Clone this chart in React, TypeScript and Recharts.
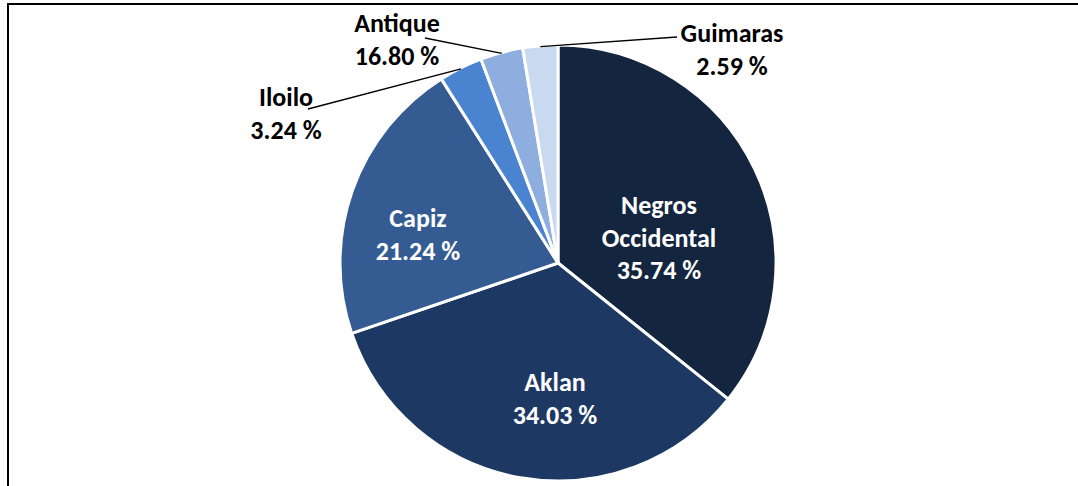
import React from 'react'
import { Cell, Pie, PieChart } from 'recharts'

const provinces = ['Negros Occidental', 'Aklan', 'Capiz', 'Iloilo', 'Antique', 'Guimaras']
// slice sizes as drawn
const shares = [35.74, 34.03, 21.24, 3.24, 3.16, 2.59]
// percentages as printed in the labels
const printed = ['35.74 %', '34.03 %', '21.24 %', '3.24 %', '16.80 %', '2.59 %']
const labelLines = [['Negros', 'Occidental'], ['Aklan'], ['Capiz'], ['Iloilo'], ['Antique'], ['Guimaras']]

const colors = ['#13253F', '#1E3864', '#345C92', '#4A84D0', '#8DAEDF', '#C9D9F0']

const data = provinces.map((name, i) => ({ name, value: shares[i], text: printed[i], lines: labelLines[i] }))

// label anchor (first line centre) relative to pie centre, and leader end point
const labelSpots: { dx: number; dy: number; inside: boolean; lx?: number; ly?: number }[] = [
    { dx: 101, dy: -58, inside: true },
    { dx: -3, dy: 119, inside: true },
    { dx: -140, dy: -45, inside: true },
    { dx: -272, dy: -166, inside: false, lx: -250, ly: -154 },
    { dx: -161, dy: -240, inside: false, lx: -133, ly: -225 },
    { dx: 174, dy: -230, inside: false, lx: 119, ly: -226 },
]

const RAD = Math.PI / 180
const font = 'Carlito, Calibri, Lato, sans-serif'

const renderLabel = (props: any) => {
    const { cx, cy, midAngle, outerRadius, index, payload } = props
    const spot = labelSpots[index]
    const rows: string[] = [...payload.lines, payload.text]
    const x = cx + spot.dx
    const y0 = cy + spot.dy
    const fill = spot.inside ? '#FFFFFF' : '#000000'
    let line = null
    if (!spot.inside) {
        const ex = cx + (outerRadius - 1) * Math.cos(-midAngle * RAD)
        const ey = cy + (outerRadius - 1) * Math.sin(-midAngle * RAD)
        line = <line x1={cx + spot.lx!} y1={cy + spot.ly!} x2={ex} y2={ey} stroke="#000" strokeWidth={1.3} />
    }
    return (
        <g key={`lbl-${index}`}>
            {line}
            {rows.map((r, k) => (
                <text
                    key={k}
                    x={x}
                    y={y0 + k * 32.5}
                    textAnchor="middle"
                    dominantBaseline="central"
                    fill={fill}
                    fontFamily={font}
                    fontWeight={700}
                    fontSize={26}
                >
                    {r}
                </text>
            ))}
        </g>
    )
}

export default function App() {
    return (
        <div style={{ position: 'absolute', left: 0, top: 0, width: 1078, height: 486, background: '#fff' }}>
            <div
                style={{
                    position: 'absolute',
                    left: 7,
                    top: 3,
                    width: 1071,
                    height: 483,
                    borderTop: '2px solid #000',
                    borderLeft: '2px solid #000',
                    boxSizing: 'border-box',
                }}
            />
            <div style={{ position: 'absolute', left: 0, top: 0 }}>
                <PieChart width={1078} height={486} margin={{ top: 0, right: 0, bottom: 0, left: 0 }}>
                    <Pie
                        data={data}
                        dataKey="value"
                        nameKey="name"
                        cx={558}
                        cy={263}
                        outerRadius={218}
                        startAngle={90}
                        endAngle={-270}
                        stroke="#FFFFFF"
                        strokeWidth={3}
                        label={renderLabel}
                        labelLine={false}
                        isAnimationActive={false}
                    >
                        {data.map((d, i) => (
                            <Cell key={d.name} fill={colors[i]} />
                        ))}
                    </Pie>
                </PieChart>
            </div>
        </div>
    )
}
